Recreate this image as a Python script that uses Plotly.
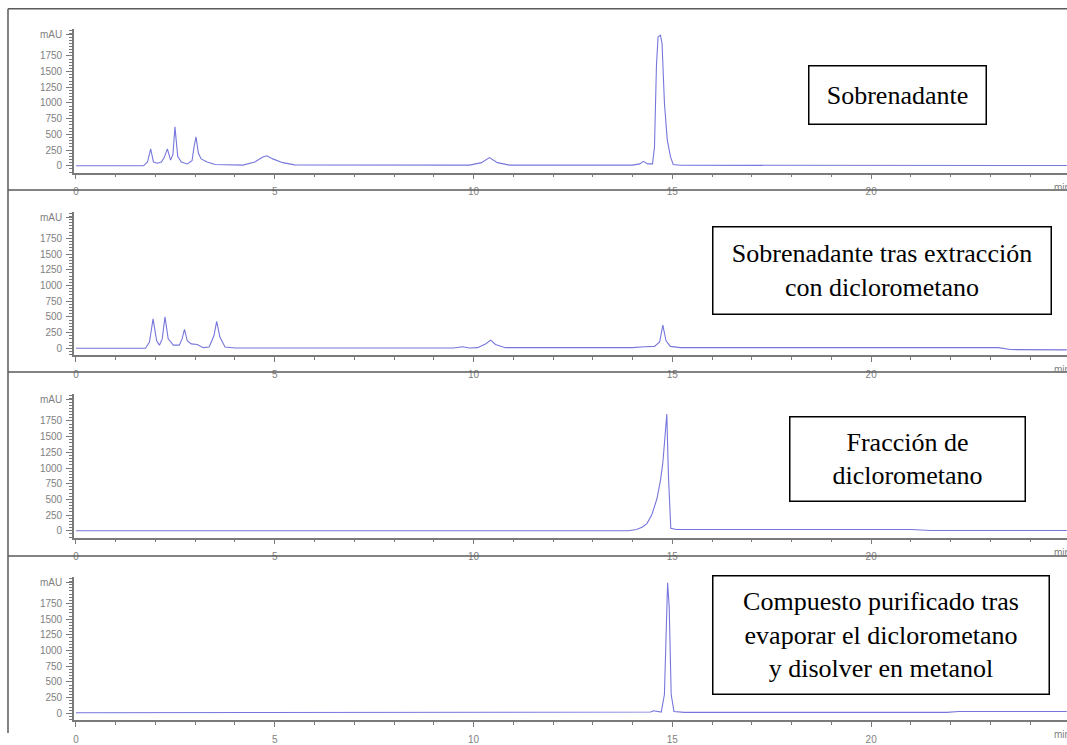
import plotly.graph_objects as go

# ---------------- data ----------------
panel_labels = [
    "Sobrenadante",
    "Sobrenadante tras extracción<br>con diclorometano",
    "Fracción de<br>diclorometano",
    "Compuesto purificado tras<br>evaporar el diclorometano<br>y disolver en metanol",
]

time_sobrenadante = [0, 1.70, 1.80, 1.88, 1.95, 2.05, 2.15, 2.22, 2.30, 2.38, 2.44, 2.49, 2.56, 2.65,
                     2.80, 2.92, 2.97, 3.02, 3.08, 3.15, 3.30, 3.50, 4.20, 4.50, 4.70, 4.80, 4.95, 5.20,
                     5.50, 9.90, 10.20, 10.40, 10.60, 10.90, 14.00, 14.18, 14.27, 14.38, 14.50, 14.55,
                     14.60, 14.64, 14.70, 14.74, 14.80, 14.87, 14.95, 15.02, 15.20, 24.92]
mau_sobrenadante = [0, 0, 60, 270, 60, 40, 60, 130, 270, 90, 180, 620, 150, 60,
                    30, 80, 300, 460, 200, 110, 60, 20, 10, 60, 140, 160, 110, 50,
                    15, 10, 50, 130, 50, 10, 10, 30, 70, 30, 30, 300,
                    1600, 2050, 2080, 1950, 1000, 420, 150, 20, 8, 5]

time_extraccion = [0, 1.75, 1.85, 1.94, 2.03, 2.10, 2.17, 2.24, 2.32, 2.45, 2.60, 2.67, 2.73, 2.80,
                   2.90, 3.05, 3.20, 3.35, 3.47, 3.54, 3.62, 3.75, 4.00, 9.50, 9.72, 9.90, 10.10,
                   10.30, 10.43, 10.55, 10.80, 14.00, 14.30, 14.55, 14.68, 14.76, 14.84, 14.95,
                   15.20, 23.20, 23.50, 24.92]
mau_extraccion = [0, 0, 100, 470, 120, 50, 150, 500, 150, 50, 50, 150, 300, 120,
                  70, 60, 10, 20, 200, 430, 180, 20, 5, 5, 25, 5, 10,
                  70, 130, 60, 10, 10, 25, 30, 100, 370, 120, 30,
                  10, 10, -20, -25]

time_fraccion = [0, 13.90, 14.10, 14.25, 14.36, 14.48, 14.61, 14.70, 14.76, 14.82, 14.86, 14.90,
                 14.96, 15.10, 15.50, 21.00, 21.50, 24.92]
mau_fraccion = [0, 0, 20, 60, 115, 250, 506, 800, 1081, 1600, 1860, 900,
                40, 20, 20, 20, 5, 5]

time_purificado = [0, 14.30, 14.45, 14.53, 14.62, 14.72, 14.80, 14.85, 14.88, 14.92, 14.97, 15.04,
                   15.30, 21.90, 22.20, 24.92]
mau_purificado = [10, 10, 20, 40, 25, 20, 300, 1600, 2080, 1700, 300, 30,
                  15, 15, 30, 30]

x_tick_vals = [0, 5, 10, 15, 20]
x_tick_text = ["0", "5", "10", "15", "20"]
y_tick_vals = [0, 250, 500, 750, 1000, 1250, 1500, 1750, 2090]
y_tick_text = ["0", "250", "500", "750", "1000", "1250", "1500", "1750", "mAU"]

series = [
    (time_sobrenadante, mau_sobrenadante),
    (time_extraccion, mau_extraccion),
    (time_fraccion, mau_fraccion),
    (time_purificado, mau_purificado),
]

# ---------------- layout geometry ----------------
W, H = 1067, 745
LINE_COLOR = "#7676dc"
AXIS_COLOR = "#7a7a7a"
TICK_FONT = dict(family="Liberation Sans, Arial, sans-serif", size=10, color="#7f7f7f")
SERIF = "Liberation Serif, Times New Roman, serif"

zero_px = [168.5, 354.0, 539.5, 725.0]   # pixel row of 0 mAU in each panel
PX_PER_MAU = 1 / 15.67
x_left_px = 73
x0_px = 75
px_per_min = 39.8

x_range = [-(x0_px - x_left_px) / px_per_min, (W - x0_px) / px_per_min]

fig = go.Figure()
layout = dict(
    width=W, height=H,
    margin=dict(l=0, r=0, t=0, b=0),
    paper_bgcolor="white", plot_bgcolor="white",
    showlegend=False,
)

boxes = [
    dict(x0=808, x1=986, y0=67, y1=126),
    dict(x0=712, x1=1051, y0=231, y1=319),
    dict(x0=789, x1=1025, y0=424, y1=509),
    dict(x0=712, x1=1049, y0=586, y1=705),
]

annotations = []
shapes = []

for i, (t, v) in enumerate(series):
    n = "" if i == 0 else str(i + 1)
    z = zero_px[i]
    bottom_px = z + 7
    top_px = z - 139
    y_range = [-(bottom_px - z) / PX_PER_MAU, (z - top_px) / PX_PER_MAU]
    fig.add_trace(go.Scatter(
        x=t, y=v, mode="lines",
        line=dict(color=LINE_COLOR, width=1.1),
        xaxis="x" + n, yaxis="y" + n, hoverinfo="skip",
    ))
    layout["xaxis" + n] = dict(
        domain=[x_left_px / W, 1], range=x_range, anchor="y" + n,
        showline=True, linecolor=AXIS_COLOR, linewidth=1.5,
        showgrid=False, zeroline=False,
        tickmode="array", tickvals=x_tick_vals, ticktext=x_tick_text,
        ticks="outside", ticklen=5, tickcolor=AXIS_COLOR, tickwidth=1,
        ticklabelstandoff=4,
        minor=dict(tickmode="array", tickvals=list(range(0, 25)), ticks="outside",
                   ticklen=3, tickcolor=AXIS_COLOR),
        tickfont=TICK_FONT, fixedrange=True,
    )
    layout["yaxis" + n] = dict(
        domain=[1 - bottom_px / H, 1 - top_px / H], range=y_range, anchor="x" + n,
        showline=True, linecolor=AXIS_COLOR, linewidth=1.5,
        showgrid=False, zeroline=False,
        tickmode="array", tickvals=y_tick_vals, ticktext=y_tick_text,
        ticks="outside", ticklen=6, tickcolor=AXIS_COLOR, tickwidth=1,
        ticklabelstandoff=2,
        minor=dict(tickmode="linear", tick0=0, dtick=50, ticks="outside",
                   ticklen=3, tickcolor=AXIS_COLOR),
        tickfont=TICK_FONT, fixedrange=True,
    )
    # "min" unit label at right end of x axis (cut by page edge, as in the reference)
    annotations.append(dict(
        xref="paper", yref="paper", x=1052 / W, y=1 - (z + 22) / H,
        xanchor="left", yanchor="middle", text="min", showarrow=False,
        font=TICK_FONT,
    ))
    b = boxes[i]
    annotations.append(dict(
        xref="paper", yref="paper",
        x=(b["x0"] + b["x1"]) / 2 / W, y=1 - (b["y0"] + b["y1"]) / 2 / H,
        xanchor="center", yanchor="middle",
        text=panel_labels[i], showarrow=False, align="center",
        width=b["x1"] - b["x0"] - 2, height=b["y1"] - b["y0"] - 2,
        borderpad=0, bordercolor="black", borderwidth=1.5, bgcolor="white",
        font=dict(family=SERIF, size=26, color="black"),
    ))

# panel frames
FRAME = "#5a5a5a"
for ypx in [9, 193, 378, 565]:
    shapes.append(dict(type="line", xref="paper", yref="paper",
                       x0=7 / W, x1=1, y0=1 - ypx / H, y1=1 - ypx / H,
                       line=dict(color=FRAME, width=1.5)))
shapes.append(dict(type="line", xref="paper", yref="paper",
                   x0=7 / W, x1=7 / W, y0=0, y1=1 - 9 / H,
                   line=dict(color=FRAME, width=1.5)))

layout["annotations"] = annotations
layout["shapes"] = shapes
fig.update_layout(**layout)
fig.write_html(
    "out.html",
    config={"displayModeBar": False},
    post_script="document.body.style.margin='0';document.body.style.overflow='hidden';",
)
